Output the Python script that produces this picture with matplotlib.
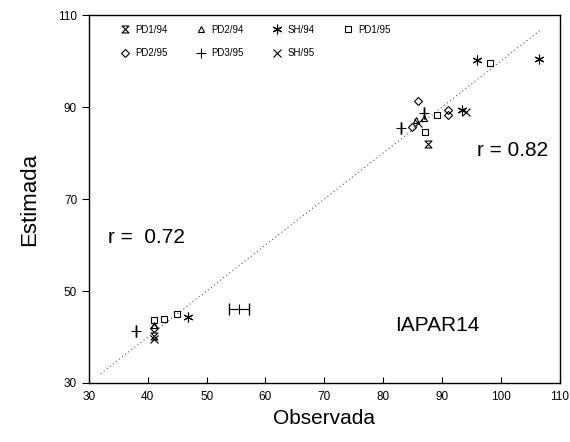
import matplotlib
matplotlib.use("Agg")
import matplotlib.pyplot as plt
from matplotlib.path import Path

plt.rcParams['font.family'] = ['Liberation Sans', 'DejaVu Sans']

# Data (observed, estimated)
pd1_94_x = [87.6, 41.0]
pd1_94_y = [82.0, 40.2]
pd2_94_x = [85.5, 87.0, 41.0]
pd2_94_y = [87.2, 87.6, 42.6]
sh_94_x = [96.0, 106.5, 93.4, 46.8]
sh_94_y = [100.3, 100.4, 89.3, 44.3]
pd1_95_x = [98.2, 89.1, 87.1, 41.0, 42.8, 45.0]
pd1_95_y = [99.6, 88.3, 84.6, 43.6, 44.0, 45.0]
pd2_95_x = [86.0, 91.0, 91.0, 84.9, 41.0]
pd2_95_y = [91.4, 89.4, 88.3, 85.7, 42.0]
pd3_95_x = [83.0, 87.0, 55.5, 38.0]
pd3_95_y = [85.4, 88.8, 46.1, 41.3]
pd3_95_xerr = [0.0, 0.0, 1.7, 0.0]
sh_95_x = [94.0, 41.0, 86.0]
sh_95_y = [88.9, 39.6, 86.5]

x_ticks = [30, 40, 50, 60, 70, 80, 90, 100, 110]
y_ticks = [30, 50, 70, 90, 110]

hourglass = Path([(-1, 1), (1, 1), (-1, -1), (1, -1), (-1, 1)],
                 [Path.MOVETO, Path.LINETO, Path.LINETO, Path.LINETO, Path.CLOSEPOLY])

fig = plt.figure(figsize=(5.7, 4.42), dpi=100)
ax = fig.add_axes([0.156, 0.1335, 0.826, 0.8325])

# 1:1 line
ax.plot([32, 107], [32, 107], color='#555555', linestyle=(0, (1, 2.5)), linewidth=0.8, zorder=1)

kw = dict(linestyle='none', color='black', markerfacecolor='none', markeredgewidth=0.8)
h1, = ax.plot(pd1_94_x, pd1_94_y, marker=hourglass, markersize=5, label='PD1/94', **kw)
h2, = ax.plot(pd2_94_x, pd2_94_y, marker='^', markersize=5, label='PD2/94', **kw)
h3, = ax.plot(sh_94_x, sh_94_y, marker=(6, 2, 0), markersize=7, label='SH/94', **kw)
h4, = ax.plot(pd1_95_x, pd1_95_y, marker='s', markersize=5, label='PD1/95', **kw)
h5, = ax.plot(pd2_95_x, pd2_95_y, marker='D', markersize=4.5, label='PD2/95', **kw)
ax.errorbar(pd3_95_x, pd3_95_y, xerr=pd3_95_xerr, fmt='none', ecolor='black',
            elinewidth=0.8, capsize=4)
h6, = ax.plot(pd3_95_x, pd3_95_y, marker='+', markersize=7, label='PD3/95', **kw)
h7, = ax.plot(sh_95_x, sh_95_y, marker='x', markersize=5.5, label='SH/95', **kw)

ax.set_xlim(30, 110)
ax.set_ylim(30, 110)
ax.set_xticks(x_ticks)
ax.set_yticks(y_ticks)
ax.tick_params(axis='x', direction='in', length=4, labelsize=8.5, pad=6)
ax.tick_params(axis='y', direction='out', length=5, labelsize=8.5)
for s in ax.spines.values():
    s.set_linewidth(1.0)

ax.set_xlabel('Observada', fontsize=15, labelpad=4)
ax.set_ylabel('Estimada', fontsize=16, labelpad=13)

ax.text(96, 80.6, 'r = 0.82', fontsize=15, va='center', ha='left')
ax.text(33.2, 61.7, 'r =  0.72', fontsize=15, va='center', ha='left')
ax.text(82, 42.6, 'IAPAR14', fontsize=15, va='center', ha='left')

handles = [h1, h5, h2, h6, h3, h7, h4]
ax.legend(handles, [h.get_label() for h in handles], ncol=4, loc='upper left',
          bbox_to_anchor=(0.045, 1.0), frameon=False, fontsize=7,
          columnspacing=2.9, handlelength=1.0, handletextpad=0.6, labelspacing=1.4,
          borderaxespad=0.6)

fig.savefig('out.png', dpi=100)
